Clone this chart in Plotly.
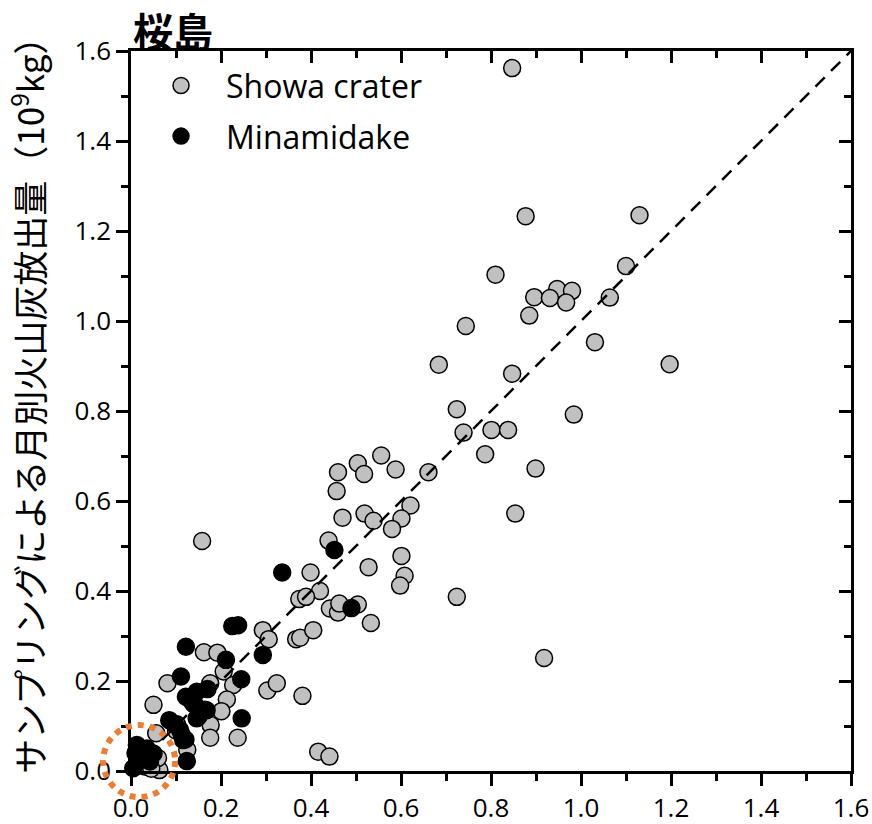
import plotly.graph_objects as go

# Monthly ash emission: sampling-based estimate vs reference estimate (10^9 kg)
showa_x = [0.847, 0.877, 1.130, 0.810, 1.100, 0.896, 0.947, 0.931, 0.980, 0.967,
           1.064, 0.885, 0.744, 1.031, 0.684, 1.197, 0.847, 0.724, 0.984, 0.739,
           0.801, 0.838, 0.787, 0.899, 0.661, 0.588, 0.556, 0.504, 0.518, 0.460,
           0.457, 0.621, 0.601, 0.580, 0.854, 0.601, 0.608, 0.598, 0.724, 0.918,
           0.158, 0.470, 0.519, 0.539, 0.439, 0.399, 0.528, 0.420, 0.374, 0.389,
           0.442, 0.460, 0.463, 0.504, 0.533, 0.293, 0.306, 0.367, 0.376, 0.405,
           0.162, 0.192, 0.206, 0.227, 0.176, 0.081, 0.303, 0.324, 0.381, 0.213,
           0.201, 0.050, 0.177, 0.176, 0.237, 0.102, 0.125, 0.056, 0.063, 0.416,
           0.441, -0.017, 0.060, 0.100, 0.030, 0.045]
showa_y = [1.562, 1.233, 1.235, 1.103, 1.122, 1.053, 1.071, 1.051, 1.067, 1.041,
           1.052, 1.012, 0.989, 0.953, 0.903, 0.904, 0.883, 0.804, 0.792, 0.752,
           0.758, 0.758, 0.704, 0.672, 0.664, 0.670, 0.701, 0.684, 0.660, 0.664,
           0.622, 0.590, 0.561, 0.538, 0.572, 0.478, 0.434, 0.412, 0.387, 0.251,
           0.511, 0.563, 0.572, 0.556, 0.512, 0.441, 0.453, 0.400, 0.382, 0.387,
           0.361, 0.352, 0.372, 0.370, 0.329, 0.313, 0.293, 0.293, 0.296, 0.313,
           0.264, 0.263, 0.221, 0.191, 0.195, 0.195, 0.179, 0.195, 0.167, 0.159,
           0.133, 0.147, 0.102, 0.074, 0.074, 0.104, 0.047, 0.084, 0.002, 0.043,
           0.032, 0.006, 0.029, 0.090, 0.010, 0.005]

minami_x = [0.452, 0.336, 0.490, 0.225, 0.238, 0.122, 0.293, 0.211, 0.245, 0.170,
            0.111, 0.122, 0.146, 0.138, 0.153, 0.168, 0.146, 0.246, 0.085, 0.109,
            0.121, 0.124, 0.113, 0.142, 0.164, 0.150, 0.097, 0.130, 0.116,
            -0.006, 0.013, 0.035, 0.050, -0.002, 0.020, 0.042, 0.005, 0.010, 0.028]
minami_y = [0.491, 0.441, 0.362, 0.322, 0.324, 0.276, 0.258, 0.247, 0.204, 0.182,
            0.210, 0.165, 0.176, 0.150, 0.128, 0.135, 0.117, 0.117, 0.113, 0.091,
            0.070, 0.022, 0.080, 0.147, 0.136, 0.121, 0.104, 0.160, 0.069,
            0.047, 0.058, 0.050, 0.039, 0.021, 0.024, 0.021, 0.006, 0.040, 0.035]

axis_range = [0, 1.6]
tick_vals = [0.0, 0.2, 0.4, 0.6, 0.8, 1.0, 1.2, 1.4, 1.6]
tick_text = ["0.0", "0.2", "0.4", "0.6", "0.8", "1.0", "1.2", "1.4", "1.6"]

# highlighted low-emission cluster (centre and radius in data units)
ring_cx, ring_cy, ring_r = 0.018, 0.022, 0.080

fig = go.Figure()

fig.add_trace(go.Scatter(
    x=showa_x, y=showa_y, mode="markers", name="Showa crater",
    cliponaxis=False, legendgroup="showa",
    marker=dict(size=17, color="#c0c0c0", line=dict(color="black", width=1.5)),
))
fig.add_trace(go.Scatter(
    x=minami_x, y=minami_y, mode="markers", name="Minamidake",
    cliponaxis=False, legendgroup="minami",
    marker=dict(size=17, color="black", line=dict(color="black", width=1.5)),
))
# 1:1 reference line
fig.add_trace(go.Scatter(
    x=axis_range, y=axis_range, mode="lines", showlegend=False,
    line=dict(color="black", width=2.5, dash="13px,9px"),
))
# carrier for the mirrored top/right axes
fig.add_trace(go.Scatter(x=[None], y=[None], xaxis="x2", yaxis="y2",
                         showlegend=False, hoverinfo="skip"))

tick_font = dict(family="Open Sans", size=26, color="black")
common = dict(range=axis_range, showgrid=False, zeroline=False, automargin=False,
              showline=True, linecolor="black", linewidth=2.5)

fig.update_layout(
    width=872, height=824,
    margin=dict(l=131, r=21, t=51, b=53, autoexpand=False),
    plot_bgcolor="white", paper_bgcolor="white",
    xaxis=dict(**common, tickvals=tick_vals, ticktext=tick_text,
               ticks="outside", ticklen=12, tickwidth=2.5, tickcolor="black",
               tickfont=tick_font,
               minor=dict(dtick=0.1, ticks="outside", ticklen=7,
                          tickwidth=2.5, tickcolor="black")),
    yaxis=dict(**common, tickvals=tick_vals, ticktext=tick_text,
               ticks="outside", ticklen=12, tickwidth=2.5, tickcolor="black",
               tickfont=tick_font,
               minor=dict(dtick=0.1, ticks="outside", ticklen=7,
                          tickwidth=2.5, tickcolor="black")),
    xaxis2=dict(**common, overlaying="x", side="top", anchor="y2",
                tickvals=tick_vals, showticklabels=False,
                ticks="inside", ticklen=12, tickwidth=2.5, tickcolor="black",
                minor=dict(dtick=0.1, ticks="inside", ticklen=7,
                           tickwidth=2.5, tickcolor="black")),
    yaxis2=dict(**common, overlaying="y", side="right", anchor="x2",
                tickvals=tick_vals, showticklabels=False,
                ticks="inside", ticklen=12, tickwidth=2.5, tickcolor="black",
                minor=dict(dtick=0.1, ticks="inside", ticklen=7,
                           tickwidth=2.5, tickcolor="black")),
    legend=dict(x=0.007, y=0.99, xanchor="left", yanchor="top",
                bgcolor="rgba(0,0,0,0)", itemwidth=80, tracegroupgap=6,
                font=dict(family="Open Sans", size=32, color="black")),
    showlegend=True,
)

# dotted ring around the cluster near the origin (paper coords so it is not clipped)
span = axis_range[1] - axis_range[0]
fig.add_shape(
    type="circle", xref="paper", yref="paper", layer="above",
    x0=(ring_cx - ring_r) / span, x1=(ring_cx + ring_r) / span,
    y0=(ring_cy - ring_r) / span, y1=(ring_cy + ring_r) / span,
    line=dict(color="#ed7d31", width=6, dash="6px,6px"),
)

fig.add_annotation(
    text="<b>桜島</b>", xref="paper", yref="paper", x=0.0, y=1.0,
    xanchor="left", yanchor="bottom", showarrow=False, yshift=-2,
    height=42, valign="middle",
    font=dict(family="Noto Sans CJK JP", size=40, color="black"),
)
fig.add_annotation(
    text="サンプリングによる月別火山灰放出量（10<sup>9</sup>kg）",
    xref="paper", yref="paper", x=-0.143, y=0.52, textangle=-90,
    xanchor="center", yanchor="middle", showarrow=False,
    font=dict(family="Noto Sans CJK JP", size=35, color="black"),
)

fig.write_html("out.html")
